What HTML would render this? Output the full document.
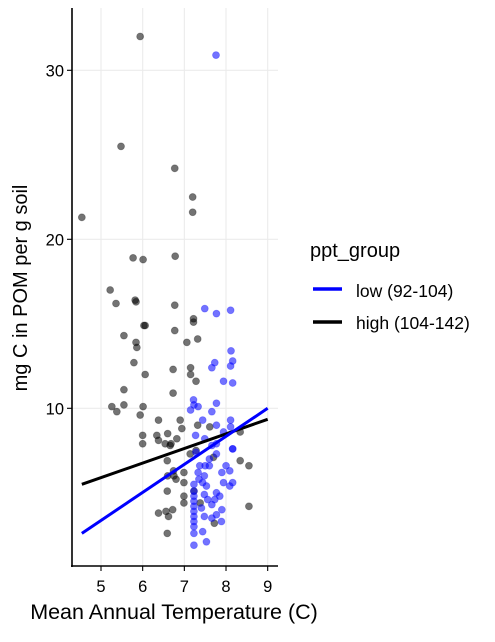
<!DOCTYPE html>
<html><head><meta charset="utf-8"><style>
body{margin:0;background:#fff;font-family:"Liberation Sans",Arial,sans-serif;}
svg text{font-family:"Liberation Sans",Arial,sans-serif;}
</style></head><body>
<svg id="chart" width="495" height="637" viewBox="0 0 495 637" xmlns="http://www.w3.org/2000/svg">
<g id="grid"></g>
<g id="points"></g>
<g id="lines"></g>
<g id="axes"></g>
<text transform="translate(27,288) rotate(-90)" text-anchor="middle" font-size="20" fill="#000">mg C in POM per g soil</text>
<text x="174" y="619" text-anchor="middle" font-size="21.5" fill="#000">Mean Annual Temperature (C)</text>
<g>
<text x="310" y="257" font-size="20" fill="#000">ppt_group</text>
<line x1="313" y1="289" x2="342" y2="289" stroke="#0000ff" stroke-width="3.5"/>
<text x="356" y="297" font-size="17.5" fill="#000">low (92-104)</text>
<line x1="313" y1="322" x2="342" y2="322" stroke="#000" stroke-width="3.5"/>
<text x="356" y="329" font-size="17.5" fill="#000">high (104-142)</text>
</g>
</svg>
<script>
const xTicks=[5,6,7,8,9];
const yTicks=[10,20,30];
const highX=[4.54,5.94,5.48,5.77,6.01,5.22,5.36,5.82,6.03,5.55,5.86,6.06,5.79,5.55,5.26,5.55,5.38,6.01,5.94,5.84,6.77,7.22,7.22,6.06,6.77,5.84,7.06,7.32,6.73,7.15,7.15,7.28,6.73,6.38,6.9,7.32,6.94,7.61,6.0,6.34,6.6,6.82,6.38,6.0,6.54,6.68,8.34,6.66,6.59,7.14,6.74,6.75,6.8,6.6,6.99,6.99,6.59,6.99,6.99,7.23,7.38,6.38,6.56,6.62,6.72,6.59,7.72,8.34,8.55,8.55,7.28,7.7,6.77,7.2,6.78,7.2];
const highY=[21.3,32.0,25.5,18.9,18.8,17.0,16.2,16.4,14.9,14.3,13.6,12.0,12.7,11.1,10.1,10.2,9.8,10.1,9.6,16.3,16.1,15.3,15.1,14.9,14.6,13.9,13.9,14.1,12.3,12.4,12.0,11.6,10.9,9.3,9.3,9.0,8.8,8.9,8.4,8.4,8.5,8.2,8.1,7.9,7.9,7.9,8.6,7.8,6.9,7.3,6.3,6.0,5.8,6.0,6.2,5.6,5.1,4.8,4.4,5.1,4.4,3.8,3.9,3.6,4.0,2.6,3.2,6.9,6.6,4.2,7.5,7.1,24.2,22.5,19.0,21.6];
const lowX=[7.76,7.49,7.77,8.11,8.12,8.16,7.73,7.66,8.11,7.94,8.16,7.22,7.23,7.15,7.33,7.77,7.66,7.44,7.77,8.11,8.11,7.27,7.49,7.94,8.16,7.77,7.28,7.66,7.77,8.16,7.37,7.5,7.6,7.33,7.48,8.0,8.09,7.9,7.94,8.16,8.09,7.44,7.53,7.23,7.23,7.23,7.23,7.23,7.23,7.23,7.23,7.23,7.23,7.23,7.44,7.53,7.48,7.56,7.77,7.85,7.66,7.9,7.77,7.48,7.66,7.89,7.73,7.41,7.6,7.35];
const lowY=[30.9,15.9,15.6,15.8,13.4,12.8,12.7,12.4,12.5,11.6,11.5,10.5,10.2,9.9,10.1,10.3,9.8,9.3,9.0,9.3,8.9,8.4,8.2,8.6,7.6,7.9,7.4,7.8,7.3,7.6,6.6,6.6,6.6,6.2,6.0,6.6,6.3,6.2,5.6,5.6,5.4,5.6,5.4,5.5,5.1,4.8,4.5,4.2,3.9,3.6,3.3,3.0,2.6,1.9,2.7,2.1,4.9,4.6,5.0,4.8,4.3,4.0,3.7,3.6,3.5,3.3,4.6,4.1,7.0,5.8];
const lowLineX=[4.54,9.0];
const lowLineY=[2.6,10.0];
const highLineX=[4.54,9.0];
const highLineY=[5.5,9.35];
const NS="http://www.w3.org/2000/svg";
const xS=v=>101+(v-5)*41.67;
const yS=v=>408.3-(v-10)*16.9;
const L=72,R=278,T=8,B=566;
function mk(tag,attrs,parent){const e=document.createElementNS(NS,tag);for(const k in attrs)e.setAttribute(k,attrs[k]);parent.appendChild(e);return e;}
const grid=document.getElementById('grid'),axes=document.getElementById('axes'),pts=document.getElementById('points'),lines=document.getElementById('lines');
xTicks.forEach(t=>{
 const g=mk('line',{x1:xS(t),x2:xS(t),y1:T,y2:B,stroke:'#ebebeb','stroke-width':1.1},grid);
 
 
 const tk=mk('line',{x1:xS(t),x2:xS(t),y1:B,y2:B+5,stroke:'#000','stroke-width':1.1},axes);
 
 
 const tx=mk('text',{x:xS(t),y:592,'text-anchor':'middle','font-size':16.5,fill:'#000'},axes);
 tx.textContent=t;
 
 
});
yTicks.forEach(t=>{
 const g=mk('line',{x1:L,x2:R,y1:yS(t),y2:yS(t),stroke:'#ebebeb','stroke-width':1.1},grid);
 
 
 const tk=mk('line',{x1:L-5,x2:L,y1:yS(t),y2:yS(t),stroke:'#000','stroke-width':1.1},axes);
 
 
 const tx=mk('text',{x:L-8,y:yS(t)+6,'text-anchor':'end','font-size':16.5,fill:'#000'},axes);
 tx.textContent=t;
 
 
});
const ax1=mk('line',{x1:L,x2:L,y1:T,y2:B+1,stroke:'#000','stroke-width':1.6},axes);


const ax2=mk('line',{x1:L-1,x2:R,y1:B,y2:B,stroke:'#000','stroke-width':1.6},axes);


highX.forEach((x,i)=>{
 const c=mk('circle',{cx:xS(x),cy:yS(highY[i]),r:3.5,fill:'#000','fill-opacity':0.55,stroke:'#000','stroke-opacity':0.3,'stroke-width':0.8},pts);
 
 
});
lowX.forEach((x,i)=>{
 const c=mk('circle',{cx:xS(x),cy:yS(lowY[i]),r:3.5,fill:'#0000ff','fill-opacity':0.55,stroke:'#0000ff','stroke-opacity':0.3,'stroke-width':0.8},pts);
 
 
});
const l1=mk('line',{x1:xS(highLineX[0]),y1:yS(highLineY[0]),x2:xS(highLineX[1]),y2:yS(highLineY[1]),stroke:'#000','stroke-width':3},lines);


const l2=mk('line',{x1:xS(lowLineX[0]),y1:yS(lowLineY[0]),x2:xS(lowLineX[1]),y2:yS(lowLineY[1]),stroke:'#0000ff','stroke-width':3},lines);


</script>
</body></html>
